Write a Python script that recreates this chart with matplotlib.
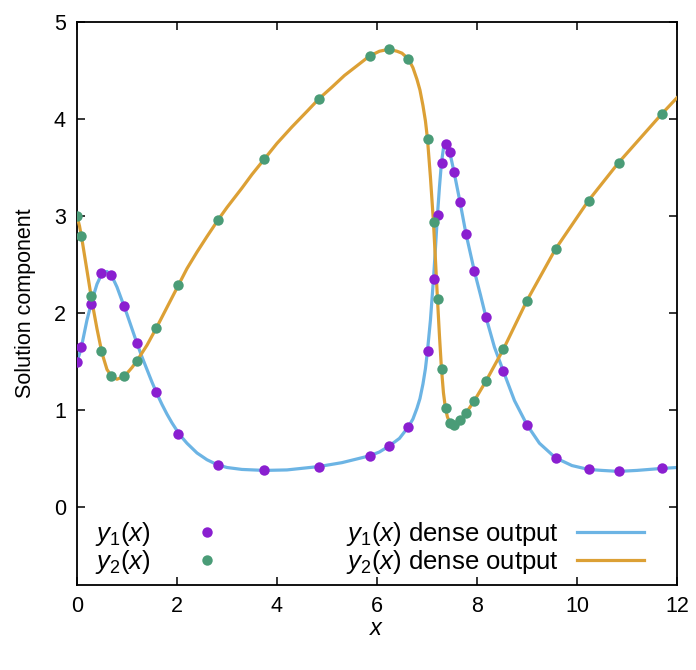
import matplotlib
matplotlib.use('Agg')
import matplotlib.pyplot as plt

# solver steps (both components share the same x)
step_x = [0.0, 0.086, 0.28, 0.486, 0.68, 0.932, 1.192, 1.58, 2.026, 2.82, 3.746,
          4.84, 5.852, 6.24, 6.626, 7.012, 7.132, 7.212, 7.292, 7.372, 7.456,
          7.54, 7.656, 7.78, 7.946, 8.18, 8.526, 9.0, 9.572, 10.232, 10.832, 11.692]
step_y1 = [1.50, 1.65, 2.09, 2.41, 2.39, 2.07, 1.69, 1.19, 0.76, 0.44, 0.38,
           0.42, 0.53, 0.63, 0.83, 1.61, 2.35, 3.01, 3.55, 3.74, 3.66,
           3.46, 3.15, 2.82, 2.43, 1.96, 1.40, 0.85, 0.51, 0.39, 0.37, 0.40]
step_y2 = [3.00, 2.80, 2.18, 1.61, 1.35, 1.35, 1.51, 1.85, 2.29, 2.96, 3.59,
           4.21, 4.65, 4.72, 4.62, 3.80, 2.94, 2.15, 1.43, 1.02, 0.87,
           0.85, 0.90, 0.97, 1.10, 1.30, 1.63, 2.13, 2.66, 3.16, 3.55, 4.05]

# dense output
dense_x1 = [0.0, 0.05, 0.1, 0.2, 0.3, 0.4, 0.5, 0.6, 0.7, 0.8, 0.9, 1.0, 1.1,
            1.2, 1.3, 1.4, 1.5, 1.6, 1.7, 1.8, 1.9, 2.0, 2.1, 2.2, 2.4, 2.6,
            2.8, 3.0, 3.3, 3.75, 4.2, 4.84, 5.3, 5.85, 6.05, 6.24, 6.45, 6.63,
            6.72, 6.8, 6.86, 6.92, 6.97, 7.01, 7.07, 7.13, 7.17, 7.21, 7.25,
            7.29, 7.33, 7.37, 7.41, 7.46, 7.54, 7.66, 7.78, 7.95, 8.07, 8.18,
            8.35, 8.53, 8.75, 9.0, 9.25, 9.57, 9.9, 10.23, 10.5, 10.83, 11.2,
            11.69, 12.0]
dense_y1 = [1.50, 1.58, 1.68, 1.93, 2.13, 2.30, 2.41, 2.43, 2.38, 2.27, 2.13,
            1.99, 1.84, 1.69, 1.55, 1.42, 1.29, 1.17, 1.06, 0.96, 0.87, 0.79,
            0.72, 0.66, 0.56, 0.49, 0.44, 0.41, 0.39, 0.38, 0.385, 0.42, 0.46,
            0.53, 0.57, 0.63, 0.71, 0.83, 0.91, 1.02, 1.12, 1.27, 1.43, 1.61,
            1.93, 2.35, 2.67, 3.01, 3.30, 3.55, 3.70, 3.75, 3.72, 3.65, 3.46,
            3.15, 2.82, 2.43, 2.19, 1.96, 1.65, 1.40, 1.10, 0.85, 0.66, 0.51,
            0.43, 0.39, 0.38, 0.37, 0.38, 0.40, 0.41]
dense_x2 = [0.0, 0.05, 0.1, 0.2, 0.3, 0.4, 0.5, 0.6, 0.7, 0.8, 0.9, 1.0, 1.1,
            1.2, 1.4, 1.6, 1.8, 2.03, 2.2, 2.4, 2.6, 2.82, 3.0, 3.3, 3.5, 3.75,
            4.0, 4.3, 4.6, 4.84, 5.1, 5.35, 5.6, 5.85, 6.05, 6.24, 6.4, 6.5,
            6.63, 6.72, 6.8, 6.86, 6.92, 6.97, 7.01, 7.07, 7.13, 7.17, 7.21,
            7.25, 7.29, 7.33, 7.37, 7.41, 7.46, 7.54, 7.66, 7.78, 7.95, 8.18,
            8.53, 9.0, 9.57, 10.23, 10.83, 11.69, 12.0]
dense_y2 = [3.00, 2.90, 2.76, 2.44, 2.12, 1.84, 1.59, 1.42, 1.345, 1.32, 1.34,
            1.38, 1.44, 1.51, 1.67, 1.86, 2.06, 2.29, 2.46, 2.63, 2.79, 2.96,
            3.09, 3.29, 3.43, 3.59, 3.75, 3.92, 4.08, 4.21, 4.33, 4.45, 4.55,
            4.65, 4.70, 4.72, 4.70, 4.68, 4.62, 4.53, 4.41, 4.30, 4.14, 3.98,
            3.80, 3.40, 2.94, 2.55, 2.15, 1.77, 1.43, 1.18, 1.02, 0.93, 0.87,
            0.846, 0.897, 0.97, 1.10, 1.30, 1.63, 2.13, 2.66, 3.16, 3.55, 4.05,
            4.22]

plt.rcParams['font.family'] = ['Liberation Sans', 'DejaVu Sans']
plt.rcParams['mathtext.fontset'] = 'custom'
plt.rcParams['mathtext.rm'] = 'Liberation Sans'
plt.rcParams['mathtext.it'] = 'Liberation Sans:italic'

fig = plt.figure(figsize=(6.96, 6.70), dpi=100)
ax = fig.add_axes([0.1106, 0.127, 0.862, 0.840])

l1, = ax.plot(dense_x1, dense_y1, color='#6cb4e4', lw=2.3, zorder=2)
l2, = ax.plot(dense_x2, dense_y2, color='#dca035', lw=2.3, zorder=3)
p1, = ax.plot(step_x, step_y1, 'o', color='#8a1fd0', ms=7.5, mew=0, zorder=4)
p2, = ax.plot(step_x, step_y2, 'o', color='#4a9c77', ms=7.5, mew=0, zorder=5)

ax.set_xlim(0, 12)
ax.set_ylim(-0.8, 5)
ax.set_xticks([0, 2, 4, 6, 8, 10, 12])
ax.set_yticks([0, 1, 2, 3, 4, 5])
ax.tick_params(direction='in', length=6, width=1.1, top=True, right=True,
               labelsize=15.5, pad=8)
for s in ax.spines.values():
    s.set_linewidth(1.3)

ax.set_xlabel('$x$', fontsize=17, labelpad=1)
ax.set_ylabel('Solution component', fontsize=15.5, labelpad=13)

leg1 = ax.legend([p1, p2], ['$y_1(x)$', '$y_2(x)$'], loc='lower left',
                 frameon=False, markerfirst=False, fontsize=18.5,
                 handlelength=2.0, labelspacing=0.0, borderaxespad=0.3,
                 handletextpad=1.2, bbox_to_anchor=(0.0, -0.016))
ax.add_artist(leg1)
ax.legend([l1, l2], ['$y_1(x)$ dense output', '$y_2(x)$ dense output'],
          loc='lower right', frameon=False, markerfirst=False, fontsize=18.5,
          handlelength=2.6, labelspacing=0.0, borderaxespad=0.3,
          handletextpad=0.7, bbox_to_anchor=(0.975, -0.016))

fig.savefig('out.png', dpi=100)
